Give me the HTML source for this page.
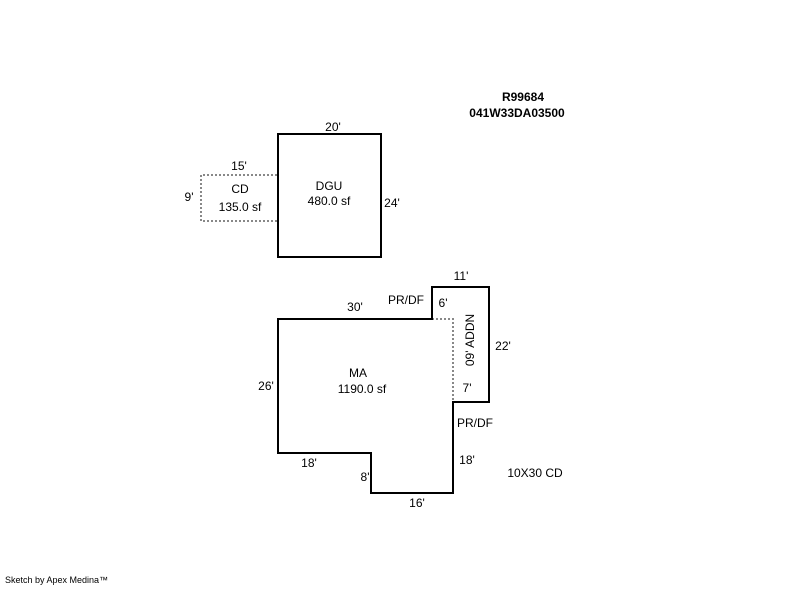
<!DOCTYPE html>
<html><head><style>
body{margin:0;background:#fff;}
svg text{font-family:"Liberation Sans",sans-serif;font-size:12px;fill:#000;}
</style></head><body>
<svg width="800" height="587" xmlns="http://www.w3.org/2000/svg">
<rect width="800" height="587" fill="#fff"/>
<text x="523" y="101" text-anchor="middle" font-weight="bold">R99684</text>
<text x="517" y="117" text-anchor="middle" font-weight="bold">041W33DA03500</text>
<!-- CD -->
<path d="M277,175 H201 V221 H277" fill="none" stroke="#888" stroke-width="2" stroke-dasharray="2,2"/>
<!-- DGU -->
<rect x="278" y="134" width="103" height="123" fill="none" stroke="#000" stroke-width="2"/>
<text x="333" y="131" text-anchor="middle">20'</text>
<text x="239" y="170" text-anchor="middle">15'</text>
<text x="189" y="201" text-anchor="middle">9'</text>
<text x="240" y="193" text-anchor="middle">CD</text>
<text x="240" y="211" text-anchor="middle">135.0 sf</text>
<text x="329" y="190" text-anchor="middle">DGU</text>
<text x="329" y="205" text-anchor="middle">480.0 sf</text>
<text x="392" y="207" text-anchor="middle">24'</text>
<!-- MA -->
<path d="M432,319 H453 V402" fill="none" stroke="#888" stroke-width="2" stroke-dasharray="2,2"/>
<path d="M278,319 H432 V287 H489 V402 H453 V493 H371 V453 H278 Z" fill="none" stroke="#000" stroke-width="2"/>
<text x="461" y="280" text-anchor="middle">11'</text>
<text x="355" y="311" text-anchor="middle">30'</text>
<text x="406" y="304" text-anchor="middle">PR/DF</text>
<text x="443" y="307" text-anchor="middle">6'</text>
<text x="474" y="340" text-anchor="middle" transform="rotate(-90 474 340)">09' ADDN</text>
<text x="503" y="350" text-anchor="middle">22'</text>
<text x="358" y="377" text-anchor="middle">MA</text>
<text x="362" y="393" text-anchor="middle">1190.0 sf</text>
<text x="266" y="390" text-anchor="middle">26'</text>
<text x="467" y="392" text-anchor="middle">7'</text>
<text x="475" y="427" text-anchor="middle">PR/DF</text>
<text x="309" y="467" text-anchor="middle">18'</text>
<text x="467" y="464" text-anchor="middle">18'</text>
<text x="365" y="481" text-anchor="middle">8'</text>
<text x="417" y="507" text-anchor="middle">16'</text>
<text x="535" y="477" text-anchor="middle">10X30 CD</text>
<text x="5" y="583" style="font-size:9px">Sketch by Apex Medina™</text>
</svg>
</body></html>
